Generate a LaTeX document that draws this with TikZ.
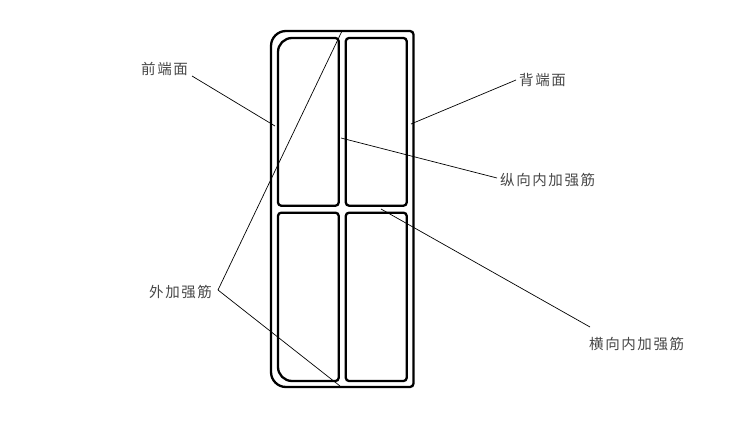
\documentclass[tikz,border=0pt]{standalone}
\usepackage{fontspec}
\newfontfamily\cjk{Noto Sans CJK SC}[LetterSpace=11]
\tikzset{
  wall/.style={draw=black,line width=2.3pt},
  lead/.style={draw=black,line width=0.7pt},
  lbl/.style={inner sep=0pt,font=\cjk\fontsize{14.5}{17}\selectfont,text=black!72}
}
\begin{document}
\begin{tikzpicture}[x=1pt,y=-1pt]
\useasboundingbox (0,0) rectangle (754,423);
% outer
\draw[wall] (271,46) arc[start angle=180,end angle=270,radius=15] -- (410,31) arc[start angle=270,end angle=360,radius=3.5] -- (413.5,383.5) arc[start angle=0,end angle=90,radius=3.5] -- (286,387) arc[start angle=90,end angle=180,radius=15] -- cycle;
% panels
\draw[wall] (278,52) arc[start angle=180,end angle=270,radius=14] -- (335.5,38) arc[start angle=270,end angle=360,radius=3.2] -- (338.7,202.5) arc[start angle=0,end angle=90,radius=3.2] -- (281.2,205.7) arc[start angle=90,end angle=180,radius=3.2] -- cycle;
\draw[wall] (349,38) -- (403.5,38) arc[start angle=270,end angle=360,radius=3.2] -- (406.7,202.5) arc[start angle=0,end angle=90,radius=3.2] -- (349,205.7) arc[start angle=90,end angle=180,radius=3.2] -- (345.8,41.2) arc[start angle=180,end angle=270,radius=3.2] -- cycle;
\draw[wall] (281.2,212.7) -- (335.5,212.7) arc[start angle=270,end angle=360,radius=3.2] -- (338.7,377.8) arc[start angle=0,end angle=90,radius=3.2] -- (292,381) arc[start angle=90,end angle=180,radius=14] -- (278,215.9) arc[start angle=180,end angle=270,radius=3.2] -- cycle;
\draw[wall] (349,212.7) -- (403.5,212.7) arc[start angle=270,end angle=360,radius=3.2] -- (406.7,377.8) arc[start angle=0,end angle=90,radius=3.2] -- (349,381) arc[start angle=90,end angle=180,radius=3.2] -- (345.8,215.9) arc[start angle=180,end angle=270,radius=3.2] -- cycle;
% labels
\node[lbl,anchor=west] (qian) at (141,69) {前端面};
\node[lbl,anchor=west] (bei) at (519,79.5) {背端面};
\node[lbl,anchor=west] (zong) at (500,180) {纵向内加强筋};
\node[lbl,anchor=west] (heng) at (589,344) {横向内加强筋};
\node[lbl,anchor=west] (wai) at (149,292) {外加强筋};
% leaders
\coordinate (q1) at (192,76); \coordinate (q2) at (275,126);
\coordinate (b1) at (516,80); \coordinate (b2) at (411,124);
\coordinate (z1) at (497,178); \coordinate (z2) at (341,138);
\coordinate (h1) at (590,327); \coordinate (h2) at (381,209);
\coordinate (w0) at (218,290); \coordinate (w1) at (342,31); \coordinate (w2) at (340,386);
\draw[lead] (q1) -- (q2);
\draw[lead] (b1) -- (b2);
\draw[lead] (z1) -- (z2);
\draw[lead] (h1) -- (h2);
\draw[lead] (w0) -- (w1);
\draw[lead] (w0) -- (w2);
\end{tikzpicture}
\end{document}
